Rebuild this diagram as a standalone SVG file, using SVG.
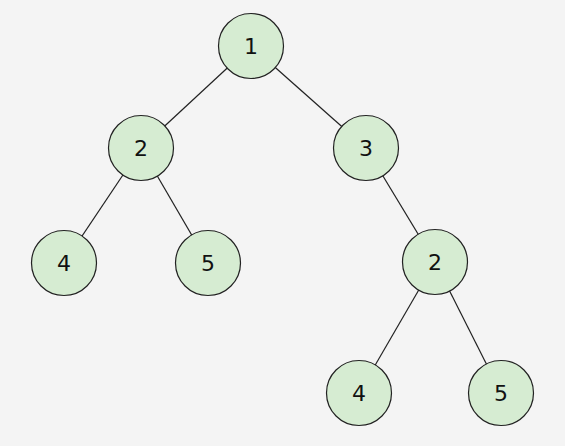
<svg xmlns="http://www.w3.org/2000/svg" width="565" height="446" viewBox="0 0 565 446">
<style>
.n circle{fill:#d6ecd2;stroke:#222;stroke-width:1.2}
.n text{font-family:"DejaVu Sans",sans-serif;font-size:22px;fill:#111;text-anchor:middle;dominant-baseline:central}
.e line{stroke:#222;stroke-width:1.2}
</style>
<rect width="565" height="446" fill="#f4f4f4"/>
<g class="e" id="edges">
<line x1="251" y1="46" x2="141" y2="148"/>
<line x1="251" y1="46" x2="366" y2="148"/>
<line x1="141" y1="148" x2="64" y2="263"/>
<line x1="141" y1="148" x2="208" y2="263"/>
<line x1="366" y1="148" x2="435" y2="262"/>
<line x1="435" y1="262" x2="359" y2="393"/>
<line x1="435" y1="262" x2="501" y2="393"/>
</g>
<g class="n" id="n1"><circle cx="251" cy="46" r="32.5"/><text x="251" y="46">1</text></g>
<g class="n" id="n2"><circle cx="141" cy="148" r="32.5"/><text x="141" y="148">2</text></g>
<g class="n" id="n3"><circle cx="366" cy="148" r="32.5"/><text x="366" y="148">3</text></g>
<g class="n" id="n4"><circle cx="64" cy="263" r="32.5"/><text x="64" y="263">4</text></g>
<g class="n" id="n5"><circle cx="208" cy="263" r="32.5"/><text x="208" y="263">5</text></g>
<g class="n" id="n6"><circle cx="435" cy="262" r="32.5"/><text x="435" y="262">2</text></g>
<g class="n" id="n7"><circle cx="359" cy="393" r="32.5"/><text x="359" y="393">4</text></g>
<g class="n" id="n8"><circle cx="501" cy="393" r="32.5"/><text x="501" y="393">5</text></g>
</svg>
